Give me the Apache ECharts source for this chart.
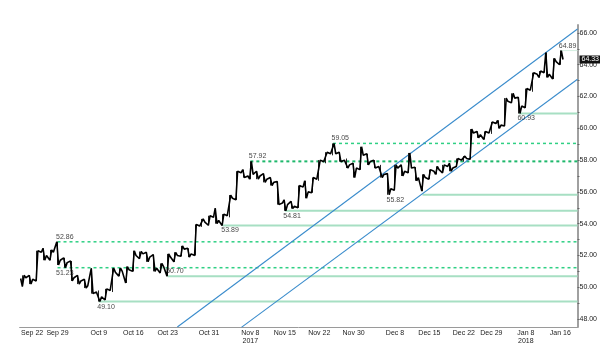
<!DOCTYPE html>
<html><head><meta charset="utf-8">
<script src="https://cdn.jsdelivr.net/npm/echarts@6/dist/echarts.min.js"></script>
<style>html,body{margin:0;padding:0;background:#fff}#c{width:600px;height:354px}</style>
</head><body><div id="c"></div>
<script>
const categories = ['Sep 22','Sep 25','Sep 26','Sep 27','Sep 28','Sep 29',
'Oct 2','Oct 3','Oct 4','Oct 5','Oct 6','Oct 9','Oct 10','Oct 11','Oct 12','Oct 13',
'Oct 16','Oct 17','Oct 18','Oct 19','Oct 20','Oct 23','Oct 24','Oct 25','Oct 26','Oct 27',
'Oct 30','Oct 31','Nov 1','Nov 2','Nov 3','Nov 6','Nov 7','Nov 8','Nov 9','Nov 10',
'Nov 13','Nov 14','Nov 15','Nov 16','Nov 17','Nov 20','Nov 21','Nov 22','Nov 24',
'Nov 27','Nov 28','Nov 29','Nov 30','Dec 1','Dec 4','Dec 5','Dec 6','Dec 7','Dec 8',
'Dec 11','Dec 12','Dec 13','Dec 14','Dec 15','Dec 18','Dec 19','Dec 20','Dec 21','Dec 22',
'Dec 26','Dec 27','Dec 28','Dec 29','Jan 2','Jan 3','Jan 4','Jan 5',
'Jan 8','Jan 9','Jan 10','Jan 11','Jan 12','Jan 16','Jan 17','Jan 18'];
const tickLabels = ['Sep 22','Sep 29','Oct 9','Oct 16','Oct 23','Oct 31','Nov 8','Nov 15','Nov 22','Nov 30','Dec 8','Dec 15','Dec 22','Dec 29','Jan 8','Jan 16'];
const yearLabels = {'Nov 8':'2017','Jan 8':'2018'};

const open  = [50.55,50.60,50.50,52.20,52.00,52.20,51.70,51.55,50.60,50.40,50.10,49.70,49.40,49.80,50.95,51.00,51.10,52.00,52.10,51.90,51.20,51.30,51.90,52.00,52.40,52.10,53.85,54.10,54.40,54.20,54.50,55.60,57.20,57.00,57.10,57.00,56.80,56.60,55.30,55.20,55.10,56.30,56.00,56.80,57.90,58.40,58.40,58.00,57.70,57.50,58.30,57.90,57.60,57.10,56.20,57.50,57.30,57.50,56.90,56.90,57.30,57.40,57.60,57.50,58.00,58.10,59.70,59.60,59.70,60.30,60.20,61.70,61.90,61.40,62.40,63.40,63.50,63.40,64.20];
const high  = [50.75,50.75,52.30,52.45,52.35,52.86,51.85,51.65,50.75,50.50,51.19,49.80,49.90,51.20,51.20,51.30,52.30,52.25,52.20,52.05,51.50,52.10,52.20,52.60,52.45,53.95,54.30,54.50,54.97,54.60,55.80,57.30,57.40,57.92,57.30,57.15,56.90,56.65,55.50,55.40,56.40,56.70,56.90,58.00,58.50,59.05,58.50,58.10,57.80,58.84,58.40,58.00,57.70,57.15,57.70,57.70,58.45,57.55,57.10,57.40,57.60,57.70,57.80,58.10,58.25,59.95,59.80,59.80,60.40,60.50,61.90,62.20,61.95,62.50,63.50,63.60,64.77,64.40,64.89];
const low   = [50.05,50.20,50.40,51.70,51.70,51.40,51.23,50.40,50.20,49.95,49.60,49.10,49.20,49.70,50.70,50.27,51.00,51.80,51.60,51.00,50.90,50.70,51.60,51.95,51.90,52.00,53.80,53.90,54.00,53.89,54.40,55.50,56.90,56.80,56.80,56.60,56.40,55.20,54.81,54.95,55.00,55.60,55.95,56.70,57.80,58.30,57.90,57.50,56.90,57.40,57.70,57.50,56.90,55.82,56.10,57.00,57.20,56.70,56.05,56.80,57.10,57.20,57.30,57.60,57.90,58.05,59.40,59.30,59.65,60.00,60.15,61.60,60.93,61.30,62.30,63.20,63.20,63.10,64.00];
const close = [50.60,50.50,52.20,52.00,52.20,51.70,51.55,50.60,50.40,50.10,49.70,49.40,49.80,50.95,51.00,51.10,52.00,52.10,51.90,51.20,51.30,51.90,52.00,52.40,52.10,53.85,54.10,54.40,54.20,54.50,55.60,57.20,57.00,57.10,57.00,56.80,56.60,55.30,55.20,55.10,56.30,56.00,56.80,57.90,58.40,58.40,58.00,57.70,57.50,58.30,57.90,57.60,57.10,56.20,57.50,57.30,57.50,56.90,56.90,57.30,57.40,57.60,57.50,58.00,58.10,59.70,59.60,59.70,60.30,60.20,61.70,61.90,61.40,62.40,63.40,63.50,63.40,64.20,64.33];
const lastPrice = 64.33;

const yLabelValues = [48,50,52,54,56,58,60,62,64,66];
const yTickValues = [48,49,50,51,52,53,54,55,56,57,58,59,60,61,62,63,64,65,66];

// horizontal support / resistance levels
const levelValues = [52.86, 51.23, 57.92, 59.05, 49.10, 50.70, 53.89, 54.81, 55.82, 60.93, 64.89];
const levelFrom   = ['Sep 29','Sep 29','Nov 8','Nov 27','Oct 9','Oct 23','Nov 2','Nov 15','Dec 14','Jan 5','Jan 16'];
const levelKind   = ['dashed','dashed','dashedBold','dashed','solid','solid','solid','solid','solid','solid','faint'];

// annotations of highs / lows
const annotValues = [52.86, 51.23, 49.10, 50.70, 53.89, 54.81, 57.92, 59.05, 55.82, 60.93, 64.89];
const annotDates  = ['Sep 29','Sep 29','Oct 9','Oct 23','Nov 2','Nov 15','Nov 8','Nov 27','Dec 7','Jan 5','Jan 16'];
const annotSide   = ['above','below','below','above','below','below','above','above','below','below','above'];

// channel lines: [trading-day index, price]
const upperChannel = [[22.9, 47.5], [81, 66.25]];
const lowerChannel = [[32.2, 47.48], [81, 63.09]];

const FONT = "'Liberation Sans Narrow','Liberation Sans',Arial,sans-serif";
const N = categories.length;

const levelStyles = {
  dashed: {color:'#2fd084', width:1.5, type:[3,3]},
  dashedBold: {color:'#1fb86c', width:2, type:[3,3]},
  solid: {color:'#a7dfc3', width:2, type:'solid'},
  faint: {color:'#d3eee0', width:1, type:'solid'}
};

const series = [];
levelValues.forEach((v, k) => {
  const s = categories.indexOf(levelFrom[k]) + 0.5;
  series.push({
    type:'line', xAxisIndex:1, yAxisIndex:0, symbol:'none', silent:true, z:1,
    data:[[s, v],[N, v]],
    lineStyle: levelStyles[levelKind[k]]
  });
});
[upperChannel, lowerChannel].forEach(ch => {
  series.push({
    type:'line', xAxisIndex:1, yAxisIndex:0, symbol:'none', silent:true, z:2,
    data: ch, lineStyle:{color:'#3a8ccc', width:1.1}
  });
});

// price trace: each day's open, extreme, extreme, close in sequence
const pricePath = [];
open.forEach((o, i) => {
  const c = close[i];
  const first = c >= o ? low[i] : high[i];
  const second = c >= o ? high[i] : low[i];
  pricePath.push([i + 0.15, o], [i + 0.4, first], [i + 0.65, second], [i + 0.9, c]);
});
series.push({
  type:'line', xAxisIndex:1, yAxisIndex:0, symbol:'none', silent:true, z:5,
  data: pricePath, lineStyle:{color:'#000', width:1.6}
});
series.push({
  type:'candlestick', xAxisIndex:0, yAxisIndex:0, z:4,
  data: open.map((o,i)=>[o, close[i], low[i], high[i]]),
  barWidth: 1,
  itemStyle:{color:'#222', color0:'#222', borderColor:'#222', borderColor0:'#222', borderWidth:1},
  markLine:{
    symbol:'none', silent:true,
    data:[{yAxis:lastPrice}],
    lineStyle:{color:'rgba(0,0,0,0)', width:0},
    label:{position:'end', distance:2, formatter: lastPrice.toFixed(2),
      backgroundColor:'#111', color:'#fff', padding:[1,2,0,2], fontSize:7, fontFamily:FONT}
  }
});
series.push({
  type:'scatter', xAxisIndex:1, yAxisIndex:0, z:6, silent:true,
  symbolSize:1, itemStyle:{color:'rgba(0,0,0,0)'},
  data: annotValues.map((v,k)=>({
    value:[categories.indexOf(annotDates[k]) + 0.5, v],
    label:{show:true, position:'right', distance:0,
      offset:[-2, annotSide[k]==='above' ? -5 : 5],
      formatter: v.toFixed(2), fontSize:7, color:'#111', fontFamily:FONT}
  }))
});

const chart = echarts.init(document.getElementById('c'), null, {renderer:'canvas'});
chart.setOption({
  animation:false,
  backgroundColor:'#fff',
  grid:{left:17, right:22, top:25, bottom:27},
  xAxis:[{
    type:'category', data:categories, boundaryGap:true,
    axisLine:{onZero:false, lineStyle:{color:'#9a9a9a', width:1}},
    axisTick:{interval:0, length:2, lineStyle:{color:'#777'}},
    axisLabel:{interval:0, margin:2, fontSize:7, color:'#222', fontFamily:FONT, lineHeight:8,
      formatter: v => {
        if (!tickLabels.includes(v)) return '';
        if (v === tickLabels[0]) return '{f|' + v + '}';
        return yearLabels[v] ? v + '\n' + yearLabels[v] : v;
      },
      rich:{f:{padding:[0,0,0,18], fontSize:7, color:'#222', fontFamily:FONT}}
    },
    splitLine:{show:false}
  },{
    type:'value', min:0, max:N, show:false
  }],
  yAxis:{
    type:'value', position:'right', min:47.5, max:66.5, interval:0.5, scale:true,
    splitLine:{show:false},
    axisLine:{show:true, onZero:false, lineStyle:{color:'#a0a0a0', width:2}},
    axisTick:{show:true, customValues:yTickValues, length:2, lineStyle:{color:'#666'}},
    axisLabel:{customValues:yLabelValues, formatter: v => v.toFixed(2), fontSize:7, color:'#222', margin:2, fontFamily:FONT}
  },
  series: series
});
</script>
</body></html>
